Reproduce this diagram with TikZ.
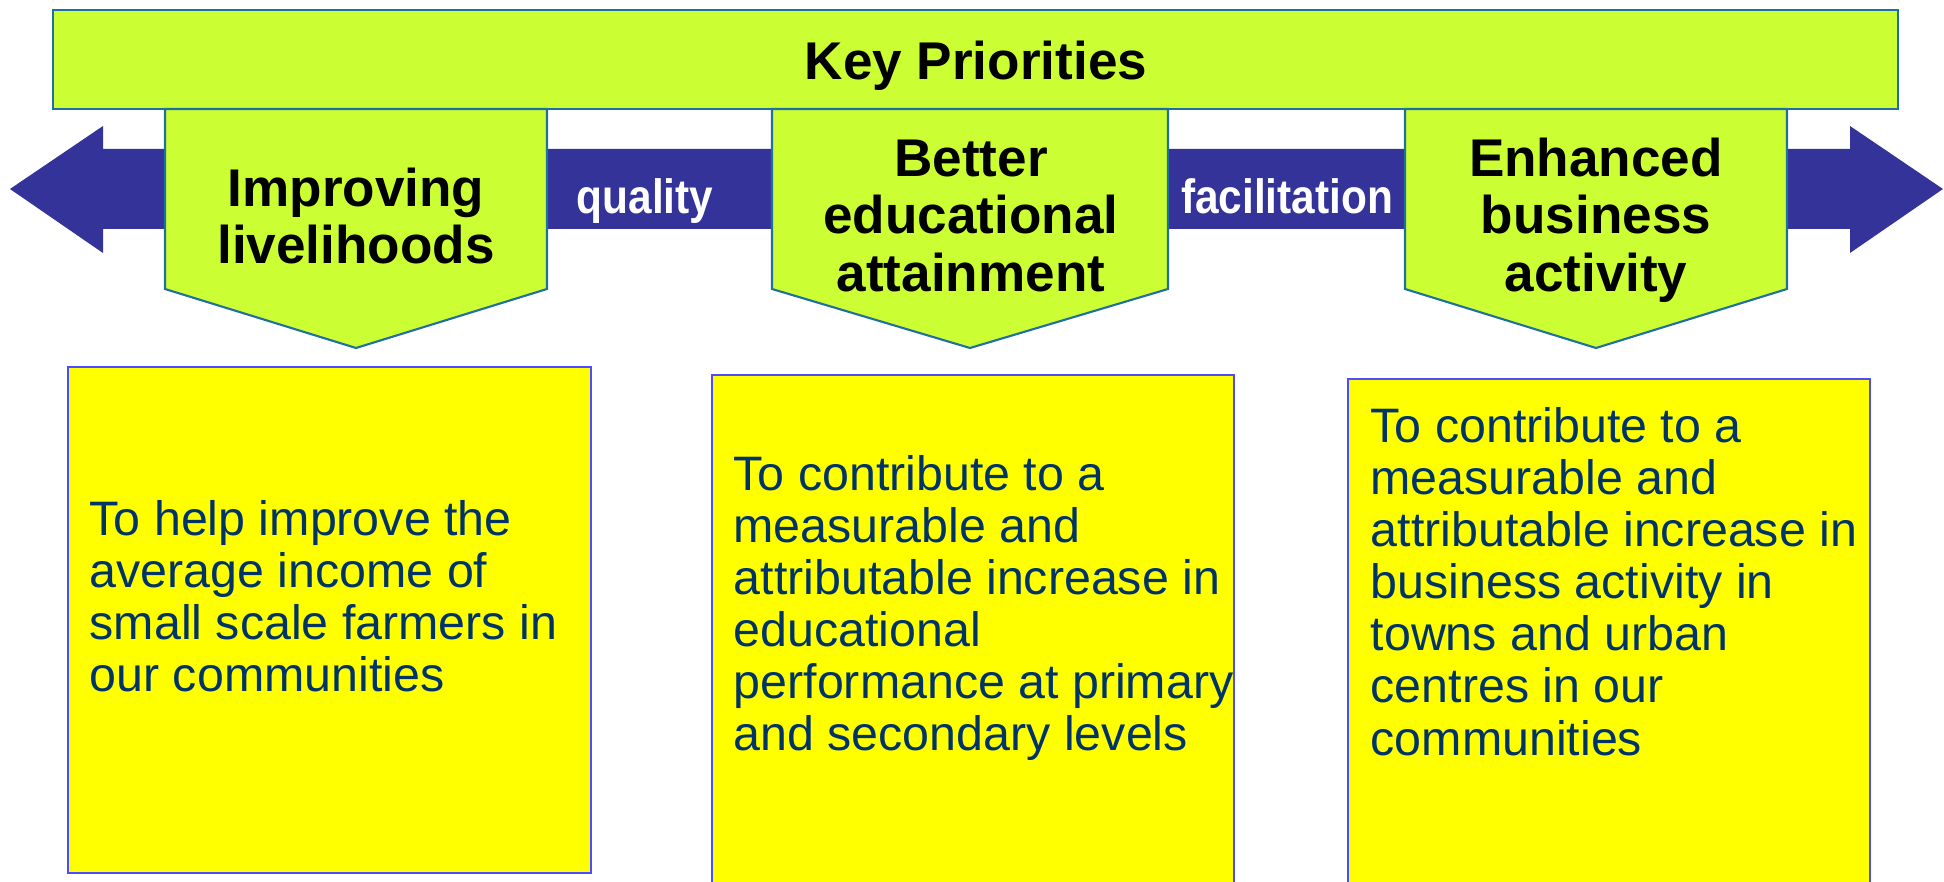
\documentclass[tikz,border=0pt]{standalone}
\usepackage{fontspec}
\setmainfont{Liberation Sans}
\newfontfamily\bandfont[FakeStretch=0.88]{Liberation Sans}
\usepackage{xcolor}
\definecolor{limegreen}{HTML}{CCFF33}
\definecolor{edgeteal}{HTML}{1F6FA0}
\definecolor{bandblue}{HTML}{333399}
\definecolor{goalyellow}{HTML}{FFFF00}
\definecolor{goaledge}{HTML}{4D4DFF}
\definecolor{goalnavy}{HTML}{003366}

\tikzset{
  prio/.style={fill=limegreen, draw=edgeteal, line width=0.6pt},
  goal/.style={fill=goalyellow, draw=goaledge, line width=0.8pt},
  heading/.style={font=\bfseries\fontsize{15.1pt}{16.4pt}\selectfont, align=center, inner sep=0pt},
  goaltxt/.style={font=\fontsize{13.75pt}{14.8pt}\selectfont, text=goalnavy, align=left, inner sep=0pt},
  bandlbl/.style={font=\bandfont\bfseries\fontsize{13.7pt}{14pt}\selectfont, text=white, inner sep=0pt},
}

\begin{document}
\begin{tikzpicture}[x=0.01cm, y=-0.01cm]
  \useasboundingbox (0,0) rectangle (1944,882);
  % Double arrow behind the priorities
  \fill[bandblue] (10,189) -- (103,126) -- (103,149) -- (1850,149) -- (1850,126)
    -- (1943,189) -- (1850,253) -- (1850,229) -- (103,229) -- (103,253) -- cycle;
  % Title bar
  \draw[prio] (53,10) rectangle (1898,109);
  \node[heading, anchor=base] (keyprio) at (976,80) {Key Priorities};
  % Chevrons
  \foreach \l/\r in {165/547, 772/1168, 1405/1787}
    \draw[prio] (\l,109) -- (\r,109) -- (\r,289) -- ({(\l+\r)/2},348) -- (\l,289) -- cycle;
  \node[heading, anchor=north] (livelihoods) at (356,167) {Improving\\livelihoods};
  \node[heading, anchor=north] (education) at (971,139) {Better\\educational\\attainment};
  \node[heading, anchor=north] (business) at (1596,137) {Enhanced\\business\\activity};
  % Labels on the band
  \node[bandlbl, anchor=base] (quality) at (645,214) {quality};
  \node[bandlbl, anchor=base] (facilitation) at (1287,214) {facilitation};
  % Goal boxes
  \draw[goal] (68,367) rectangle (591,873);
  \draw[goal] (712,375) rectangle (1234,890);
  \draw[goal] (1348,379) rectangle (1870,890);
  \node[goaltxt, anchor=north west] (goalfarm) at (89,500)
    {To help improve the\\average income of\\small scale farmers in\\our communities};
  \node[goaltxt, anchor=north west] (goalschool) at (733,455)
    {To contribute to a\\measurable and\\attributable increase in\\educational\\performance at primary\\and secondary levels};
  \node[goaltxt, anchor=north west] (goaltown) at (1370,407)
    {To contribute to a\\measurable and\\attributable increase in\\business activity in\\towns and urban\\centres in our\\communities};
\end{tikzpicture}
\end{document}
